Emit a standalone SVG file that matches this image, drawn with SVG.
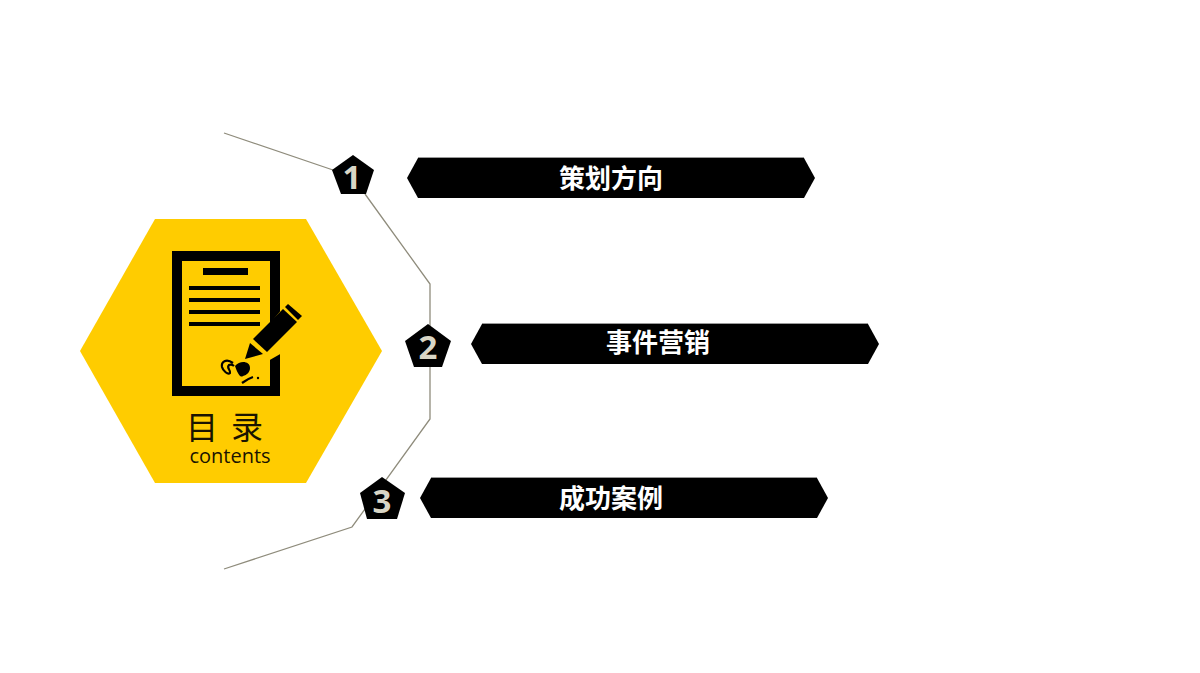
<svg xmlns="http://www.w3.org/2000/svg" width="1200" height="673" viewBox="0 0 1200 673">
<style>
.conn{fill:none;stroke:#8f8c7c;stroke-width:1.3}
.pent,.bar{fill:#000}
.edge{fill:#9a9a9a}
.num{font-family:"Open Sans","Noto Sans",sans-serif;font-weight:700;font-size:33px;fill:#d9d6c6;text-anchor:middle}
.lab{font-family:"Noto Sans CJK SC",sans-serif;font-weight:700;font-size:26px;fill:#fff;text-anchor:middle}
.ink{fill:#000}
</style>
<rect width="1200" height="673" fill="#fff"/>
<g id="connectors">
<path class="conn" d="M224 133L333 170"/>
<path class="conn" d="M365 194L430 284V419L352 527L224 569"/>
</g>
<g id="hub">
<polygon points="155,219 306,219 382,351 306,483 155,483 80,351" fill="#fc0"/>
<path class="ink" fill-rule="evenodd" d="M172 251H280V396H172ZM182 261V386H270V261Z"/>
<rect x="203" y="268" width="45" height="7" class="ink"/>
<rect x="189" y="286" width="71" height="4" class="ink"/>
<rect x="189" y="298" width="71" height="4" class="ink"/>
<rect x="189" y="310" width="71" height="4" class="ink"/>
<rect x="189" y="322" width="71" height="4" class="ink"/>
<polygon points="264,331 282,309 282,353 268,361" fill="#fc0"/>
<polygon points="253,339 283,309 297,322 267,352" class="ink"/>
<polygon points="288,304 302,316 298,320 285,307" class="ink"/>
<polygon points="250,343 263,354 245,359" class="ink"/>
<path d="M233 363C226 358 221 362 222 367C223 371 228 375 230 373C231 370 226 368 229 365C231 364 233 365 234 366" fill="none" stroke="#000" stroke-width="2.2"/>
<path d="M235 366C240 360 250 361 250 368C250 372 247 375 243 376C241 378 238 375 235 366Z" class="ink"/>
<path d="M242 383C246 380 250 378 253 377" fill="none" stroke="#000" stroke-width="2.2"/>
<circle cx="258" cy="378" r="1.2" class="ink"/>
<text x="226" y="439" font-family="'Noto Sans CJK SC',sans-serif" font-size="32" text-anchor="middle" letter-spacing="3" fill="#1a1400" xml:space="preserve">目 录</text>
<text x="230" y="463" font-family="'Open Sans','Noto Sans',sans-serif" font-size="20" text-anchor="middle" fill="#1a1400">contents</text>
</g>
<g id="node1">
<polygon class="pent" points="353,155 374,170 366,194 341,194 332,170"/>
<text class="num" x="352" y="189">1</text>
</g>
<g id="node2">
<polygon class="pent" points="428,324 451,341 442,367 414,367 405,341"/>
<text class="num" x="428" y="359">2</text>
</g>
<g id="node3">
<polygon class="pent" points="382,477 405,493 397,519 367,519 360,493"/>
<text class="num" x="382" y="513">3</text>
</g>
<g id="item1">
<rect class="edge" x="418" y="157" width="386" height="1"/>
<polygon class="bar" points="418,158 804,158 815,178 804,198 418,198 407,178"/>
<text class="lab" x="611" y="188">策划方向</text>
</g>
<g id="item2">
<rect class="edge" x="482" y="323" width="386" height="1"/>
<polygon class="bar" points="482,324 868,324 879,344 868,364 482,364 471,344"/>
<text class="lab" x="658" y="352">事件营销</text>
</g>
<g id="item3">
<rect class="edge" x="431" y="477" width="386" height="1"/>
<polygon class="bar" points="431,478 817,478 828,498 817,518 431,518 420,498"/>
<text class="lab" x="611" y="508">成功案例</text>
</g>
</svg>
